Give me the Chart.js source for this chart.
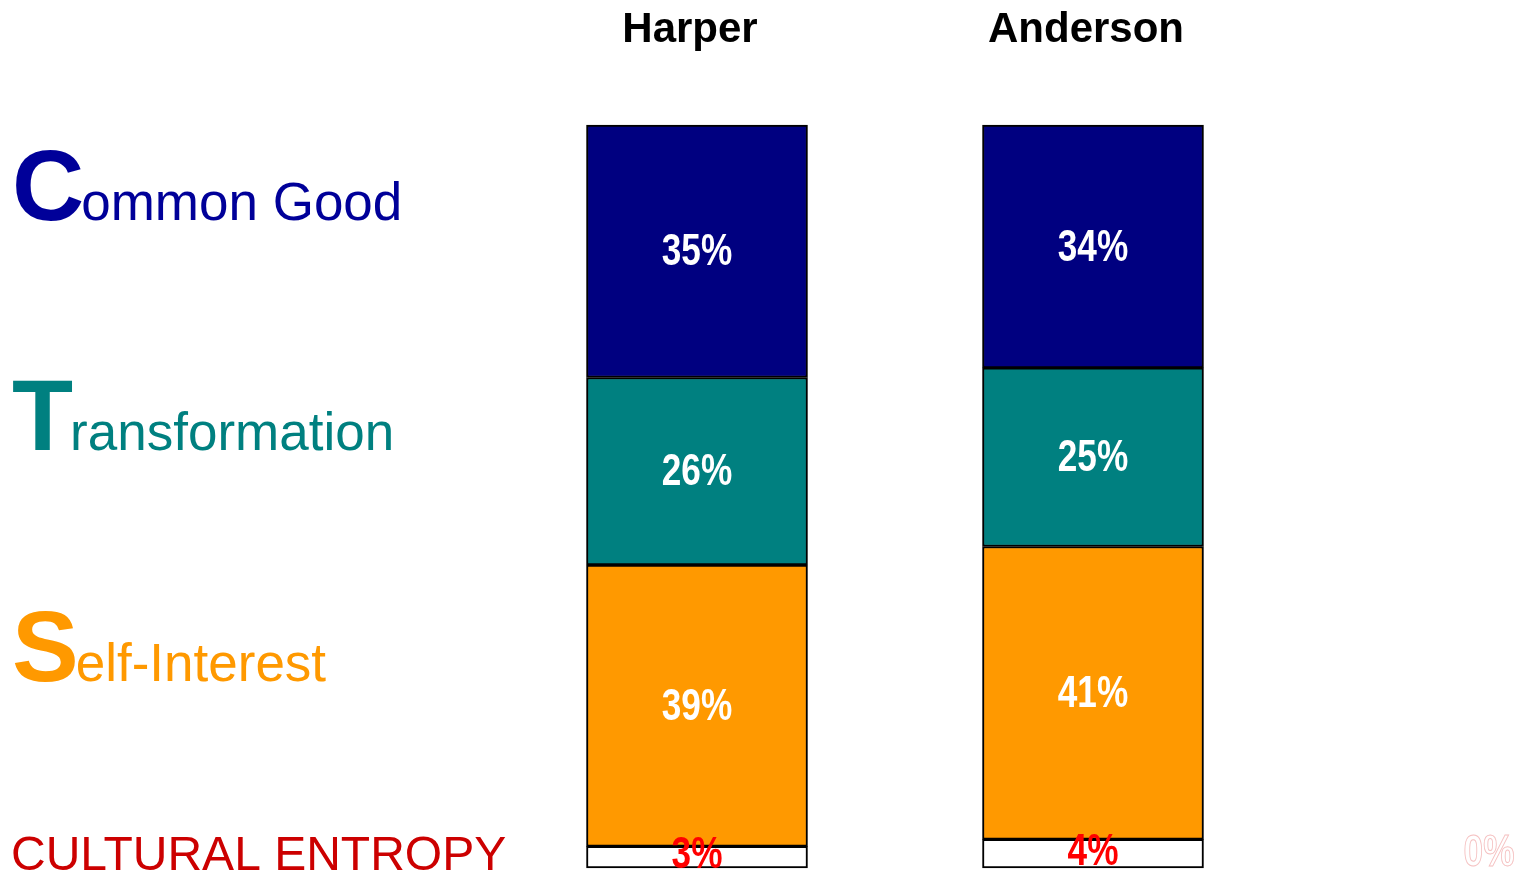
<!DOCTYPE html>
<html>
<head>
<meta charset="utf-8">
<script src="https://cdn.jsdelivr.net/npm/chart.js@4.4.1/dist/chart.umd.min.js"></script>
<style>
  html, body { margin: 0; padding: 0; background: #fff; }
  #wrap { width: 1525px; height: 872px; position: relative; }
</style>
</head>
<body>
<div id="wrap"><canvas id="cvs"></canvas></div>
<script>
// people compared (third column is an empty slot, only its entropy label shows)
const people = ['Harper', 'Anderson', ''];

// percentages as printed on the chart
const entropy = [3, 4, 0];
const selfInterest = [39, 41, null];
const transformation = [26, 25, null];
const commonGood = [35, 34, null];

const sideLabels = ['Common Good', 'Transformation', 'Self-Interest', 'CULTURAL ENTROPY'];

// each column fills the full height, so scale to share of column total
function share(arr, i) {
  const tot = (entropy[i] || 0) + (selfInterest[i] || 0) + (transformation[i] || 0) + (commonGood[i] || 0);
  if (arr[i] === null) return null;
  return tot ? arr[i] / tot * 100 : 0;
}
const norm = arr => arr.map((v, i) => share(arr, i));

// narrow bold look: regular bold squeezed horizontally
function narrowText(ctx, txt, x, y, stroke) {
  ctx.save();
  ctx.translate(x, y);
  ctx.scale(0.8, 1);
  ctx.fillText(txt, 0, 0);
  if (stroke) ctx.strokeText(txt, 0, 0);
  ctx.restore();
}

const textPlugin = {
  id: 'texts',
  afterDatasetsDraw(chart) {
    const ctx = chart.ctx;
    const x = chart.scales.x;
    ctx.save();

    // column names
    ctx.font = 'bold 42px "Liberation Sans", Arial, sans-serif';
    ctx.fillStyle = '#000';
    ctx.textAlign = 'center';
    ctx.textBaseline = 'alphabetic';
    people.forEach((p, i) => {
      if (p) ctx.fillText(p, x.getPixelForValue(i) - 7, 42);
    });

    // value labels inside segments
    ctx.font = 'bold 44px "Liberation Sans", Arial, sans-serif';
    ctx.textBaseline = 'middle';
    chart.data.datasets.forEach((ds, di) => {
      const meta = chart.getDatasetMeta(di);
      meta.data.forEach((bar, i) => {
        const raw = ds.raw[i];
        if (raw === null) return;
        const cy = (bar.y + bar.base) / 2;
        const txt = raw + '%';
        if (di === 0) {
          if (raw === 0) {
            ctx.fillStyle = '#fff';
            ctx.strokeStyle = '#f5c0c0';
            ctx.lineWidth = 1;
            narrowText(ctx, txt, bar.x, bar.base - 14, true);
          } else {
            ctx.fillStyle = '#ff0000';
            narrowText(ctx, txt, bar.x, cy - 1);
          }
        } else {
          ctx.fillStyle = '#fff';
          narrowText(ctx, txt, bar.x, cy + 2);
        }
      });
    });

    // side captions with big initial letter
    ctx.textAlign = 'left';
    ctx.textBaseline = 'alphabetic';
    const rows = [
      { t: sideLabels[0], c: '#000099', y: 220 },
      { t: sideLabels[1], c: '#008080', y: 450 },
      { t: sideLabels[2], c: '#ff9900', y: 681 }
    ];
    rows.forEach(r => {
      ctx.fillStyle = r.c;
      ctx.font = 'bold 100px "Liberation Sans", Arial, sans-serif';
      const first = r.t[0];
      ctx.fillText(first, 12, r.y);
      const w = ctx.measureText(first).width;
      ctx.font = '53px "Liberation Sans", Arial, sans-serif';
      ctx.fillText(r.t.slice(1), 12 + w - 3, r.y);
    });
    ctx.fillStyle = '#cc0000';
    ctx.font = '48px "Liberation Sans", Arial, sans-serif';
    ctx.fillText(sideLabels[3], 11, 870);

    ctx.restore();
  }
};

const noBorderIfEmpty = c => (c.raw ? 2 : 0);

new Chart(document.getElementById('cvs'), {
  type: 'bar',
  data: {
    labels: people,
    datasets: [
      { label: sideLabels[3], raw: entropy, data: norm(entropy), backgroundColor: '#ffffff' },
      { label: sideLabels[2], raw: selfInterest, data: norm(selfInterest), backgroundColor: '#ff9900' },
      { label: sideLabels[1], raw: transformation, data: norm(transformation), backgroundColor: '#008080' },
      { label: sideLabels[0], raw: commonGood, data: norm(commonGood), backgroundColor: '#000080' }
    ]
  },
  options: {
    responsive: true,
    maintainAspectRatio: false,
    animation: false,
    layout: { padding: { left: 697, right: 36, top: 125, bottom: 4 } },
    datasets: {
      bar: {
        barThickness: 221,
        borderColor: '#000',
        borderWidth: noBorderIfEmpty,
        borderSkipped: false,
        clip: false
      }
    },
    scales: {
      x: { stacked: true, offset: false, display: false },
      y: { stacked: true, min: 0, max: 100, display: false }
    },
    plugins: {
      legend: { display: false },
      tooltip: { enabled: false }
    }
  },
  plugins: [textPlugin]
});
</script>
</body>
</html>
